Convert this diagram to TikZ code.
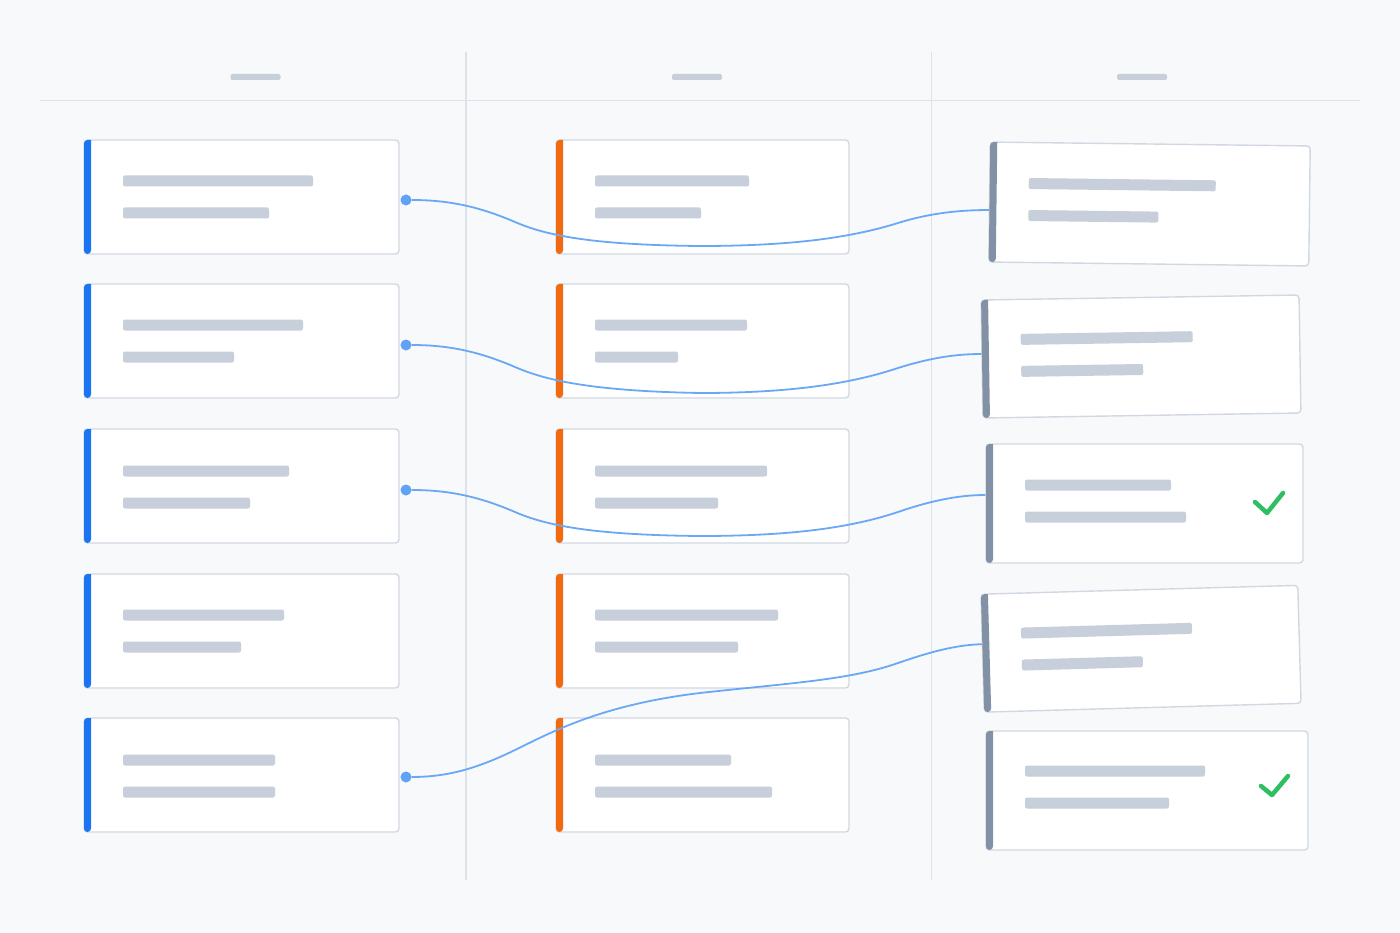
\documentclass[tikz,border=0pt]{standalone}
\usetikzlibrary{calc}
\definecolor{bg}{HTML}{F8F9FB}
\definecolor{cardline}{HTML}{D2D8E1}
\definecolor{phcol}{HTML}{C7CFDA}
\definecolor{accB}{HTML}{1A75F2}
\definecolor{accO}{HTML}{F26A10}
\definecolor{accS}{HTML}{8391A7}
\definecolor{divcol}{HTML}{DDE1E8}
\definecolor{conncol}{HTML}{6AA8F5}
\definecolor{dotcol}{HTML}{5FA2F6}
\definecolor{okcol}{HTML}{2FBF62}
\tikzset{
  card/.style={rectangle, draw=cardline, line width=1.4pt, fill=white, rounded corners=3.5pt, inner sep=0pt},
  ph/.style={fill=phcol, rounded corners=2pt},
  hdr/.style={rectangle, fill=phcol, rounded corners=2pt, minimum width=50pt, minimum height=6pt, inner sep=0pt},
  divider/.style={draw=divcol, line width=1.3pt},
  dot/.style={circle, fill=dotcol, inner sep=0pt, minimum size=11pt},
  conn/.style={draw=conncol, line width=1.8pt},
  okmark/.style={draw=okcol, line width=4.5pt, line cap=round, line join=round}
}
% name, center, angle, width, height, accent, len1, len2, line1 offset
\newcommand\kcard[9]{%
  \node[card, minimum width=#4pt, minimum height=#5pt, rotate=#3] (#1) at (#2) {};
  \begin{scope}[shift={(#1.center)}, rotate=#3]
    \fill[#6] ({-#4/2+7},{-#5/2}) [rounded corners=3.5pt] -- ({-#4/2},{-#5/2}) -- ({-#4/2},{#5/2}) -- ({-#4/2+7},{#5/2}) [sharp corners] -- cycle;
    \fill[ph] ({-#4/2+39},{#9-5.5}) rectangle ++(#7,11);
    \fill[ph] ({-#4/2+39},{#9+32-5.5}) rectangle ++(#8,11);
  \end{scope}}
\begin{document}
\begin{tikzpicture}[x=1pt,y=-1pt]
\fill[bg] (0,0) rectangle (1400,933);
\useasboundingbox (0,0) rectangle (1400,933);
% header
\draw[divider] (40,100.5) -- (1360,100.5);
\draw[divider] (466,52) -- (466,880);
\draw[divider] (931.5,52) -- (931.5,880);
\node[hdr] (h1) at (255.5,77) {};
\node[hdr] (h2) at (697,77) {};
\node[hdr] (h3) at (1142,77) {};
% left column
\kcard{L1}{241.5,197}{0}{315}{114}{accB}{190}{146}{-16}
\kcard{L2}{241.5,341}{0}{315}{114}{accB}{180}{111}{-16}
\kcard{L3}{241.5,486}{0}{315}{114}{accB}{166}{127}{-15}
\kcard{L4}{241.5,631}{0}{315}{114}{accB}{161}{118}{-16}
\kcard{L5}{241.5,775}{0}{315}{114}{accB}{152}{152}{-15}
% middle column
\kcard{M1}{702.5,197}{0}{293}{114}{accO}{154}{106}{-16}
\kcard{M2}{702.5,341}{0}{293}{114}{accO}{152}{83}{-16}
\kcard{M3}{702.5,486}{0}{293}{114}{accO}{172}{123}{-15}
\kcard{M4}{702.5,631}{0}{293}{114}{accO}{183}{143}{-16}
\kcard{M5}{702.5,775}{0}{293}{114}{accO}{136}{177}{-15}
% right column
\kcard{R1}{1149.5,204}{-0.7}{320}{120}{accS}{187}{130}{-19}
\kcard{R2}{1141,356.5}{0.9}{318}{118}{accS}{172}{122}{-19}
\kcard{R3}{1144.5,503.5}{0}{317}{119}{accS}{146}{161}{-18.5}
\kcard{R4}{1141,648.75}{1.6}{317}{118}{accS}{171}{121}{-19}
\kcard{R5}{1147,790.5}{0}{322}{119}{accS}{180}{144}{-19.5}
% check marks
\draw[okmark] (1255,502) -- (1267,513) -- (1283,493);
\draw[okmark] (1261,786) -- (1272,795) -- (1288,776);
% dots
\node[dot] (d1) at (406,200) {};
\node[dot] (d2) at (406,345) {};
\node[dot] (d3) at (406,490) {};
\node[dot] (d4) at (406,777) {};
% connectors
\draw[conn] (d1.east) .. controls (450,200) and (480,207) .. (515,222)
  .. controls (545,235) and (590,245) .. (700,246)
  .. controls (790,246) and (850,238) .. (898,223)
  .. controls (930,213) and (960,210) .. ([yshift=-8pt]R1.west);
\draw[conn] (d2.east) .. controls (450,345) and (480,352) .. (515,367)
  .. controls (545,380) and (590,391) .. (700,393)
  .. controls (790,393) and (850,384) .. (898,368)
  .. controls (930,358) and (955,354) .. ([yshift=5pt]R2.west);
\draw[conn] (d3.east) .. controls (450,490) and (480,497) .. (515,512)
  .. controls (545,525) and (590,535) .. (700,536)
  .. controls (790,536) and (850,528) .. (898,512)
  .. controls (930,501) and (958,495) .. ([yshift=8.5pt]R3.west);
\draw[conn] (d4.east) .. controls (450,777) and (480,767) .. (515,750)
  .. controls (550,733) and (600,705) .. (700,693)
  .. controls (790,683) and (850,680) .. (898,663)
  .. controls (930,652) and (955,645) .. ([yshift=9pt]R4.west);
\end{tikzpicture}
\end{document}
